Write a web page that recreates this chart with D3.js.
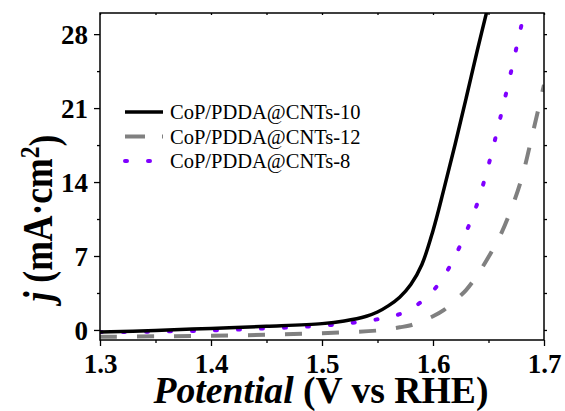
<!DOCTYPE html>
<html>
<head>
<meta charset="utf-8">
<script src="https://cdn.jsdelivr.net/npm/d3@7"></script>
<style>
  body { margin: 0; background: #fff; }
  svg { display: block; }
</style>
</head>
<body>
<svg width="565" height="411"></svg>
<script>
// Data (potential in V vs RHE, j in mA/cm2)
const potential10 = [1.30, 1.35, 1.40, 1.45, 1.50, 1.52, 1.54, 1.55, 1.56, 1.57, 1.58, 1.59, 1.60, 1.61, 1.62, 1.63, 1.64, 1.65];
const current10   = [-0.2, -0.05, 0.15, 0.35, 0.6, 0.85, 1.3, 1.7, 2.3, 3.1, 4.3, 6.2, 9.4, 13.4, 17.6, 22.0, 26.5, 30.8];

const potential12 = [1.30, 1.35, 1.40, 1.45, 1.50, 1.55, 1.57, 1.58, 1.59, 1.60, 1.61, 1.62, 1.63, 1.64, 1.65, 1.66, 1.67, 1.68, 1.69, 1.70];
const current12   = [-0.65, -0.6, -0.55, -0.45, -0.3, -0.05, 0.25, 0.45, 0.85, 1.3, 1.9, 2.8, 3.8, 5.2, 6.9, 8.8, 11.3, 14.4, 18.7, 23.2];

const potential8 = [1.30, 1.35, 1.40, 1.45, 1.50, 1.52, 1.54, 1.56, 1.57, 1.58, 1.59, 1.60, 1.61, 1.62, 1.63, 1.64, 1.65, 1.66, 1.67, 1.68];
const current8   = [-0.2, -0.15, -0.05, 0.15, 0.4, 0.6, 0.85, 1.2, 1.5, 2.0, 2.7, 3.7, 5.1, 7.0, 9.3, 12.0, 15.6, 19.8, 24.3, 29.0];

const seriesNames = ["CoP/PDDA@CNTs-10", "CoP/PDDA@CNTs-12", "CoP/PDDA@CNTs-8"];
const xTicks = [1.3, 1.4, 1.5, 1.6, 1.7];
const xMinor = [1.35, 1.45, 1.55, 1.65];
const yTicks = [0, 7, 14, 21, 28];
const yMinor = [3.5, 10.5, 17.5, 24.5];

const FONT = "'Liberation Serif', 'Times New Roman', Times, serif";

// Layout
const margin = { top: 13, right: 21, bottom: 71, left: 100 },
    width = 565 - margin.left - margin.right,
    height = 411 - margin.top - margin.bottom;

const svg = d3.select("svg")
    .style("font-family", FONT)
    .append("g")
    .attr("transform", `translate(${margin.left},${margin.top})`);

const x = d3.scaleLinear().domain([1.3, 1.7]).range([0, width]);
const y = d3.scaleLinear().domain([-0.95, 30]).range([height, 0]);

// Clip the curves to the frame
svg.append("clipPath").attr("id", "clip")
    .append("rect").attr("width", width).attr("height", height);

const series = [
    { name: seriesNames[0], xs: potential10, ys: current10, color: "#000000", width: 3.5, dash: null, cap: "butt" },
    { name: seriesNames[1], xs: potential12, ys: current12, color: "#808080", width: 4, dash: "17,20", cap: "butt" },
    { name: seriesNames[2], xs: potential8, ys: current8, color: "#7f00ff", width: 4, dash: "2,21", cap: "round" }
];

const line = d3.line()
    .x(d => x(d[0]))
    .y(d => y(d[1]))
    .curve(d3.curveCatmullRom.alpha(0.5));

const plot = svg.append("g").attr("clip-path", "url(#clip)");

// draw order: gray, purple, black on top
[series[1], series[2], series[0]].forEach(s => {
    plot.append("path")
        .datum(s.xs.map((v, i) => [v, s.ys[i]]))
        .attr("fill", "none")
        .attr("stroke", s.color)
        .attr("stroke-width", s.width)
        .attr("stroke-dasharray", s.dash)
        .attr("stroke-linecap", s.cap)
        .attr("d", line);
});

// Axes
function styleAxis(g) {
    g.attr("font-family", null);
    g.select(".domain").remove();
    g.selectAll("line").attr("stroke", "#000").attr("stroke-width", 1.3);
    g.selectAll("text")
        .style("font-family", FONT)
        .style("font-size", "27px")
        .style("font-weight", "bold")
        .attr("fill", "#000");
}

svg.append("g")
    .attr("transform", `translate(0,${height})`)
    .call(d3.axisBottom(x).tickValues(xTicks).tickSize(6).tickPadding(8).tickFormat(d3.format(".1f")))
    .call(styleAxis);

svg.append("g")
    .attr("transform", `translate(0,${height})`)
    .call(d3.axisBottom(x).tickValues(xMinor).tickSize(3).tickFormat(""))
    .call(styleAxis);

svg.append("g")
    .call(d3.axisLeft(y).tickValues(yTicks).tickSize(6).tickPadding(6))
    .call(styleAxis)
    .selectAll("text").attr("dy", "0.36em");

svg.append("g")
    .call(d3.axisLeft(y).tickValues(yMinor).tickSize(3).tickFormat(""))
    .call(styleAxis);

// mirror ticks on top and right
svg.append("g")
    .call(d3.axisBottom(x).tickValues(xTicks.concat(xMinor)).tickSize(2).tickFormat(""))
    .call(styleAxis);

svg.append("g")
    .attr("transform", `translate(${width},0)`)
    .call(d3.axisRight(y).tickValues(yTicks.concat(yMinor)).tickSize(3).tickFormat(""))
    .call(styleAxis);

// Frame
svg.append("rect")
    .attr("width", width)
    .attr("height", height)
    .attr("fill", "none")
    .attr("stroke", "#000")
    .attr("stroke-width", 1.5);

// Legend
const legend = svg.append("g").attr("transform", "translate(25,99)");
series.forEach((s, i) => {
    const row = legend.append("g").attr("transform", `translate(0,${i * 24.5})`);
    row.append("line")
        .attr("x1", 0).attr("x2", 38)
        .attr("stroke", s.color)
        .attr("stroke-width", s.width)
        .attr("stroke-dasharray", i === 1 ? "20,17" : (i === 2 ? "2,21" : null))
        .attr("stroke-linecap", s.cap);
    row.append("text")
        .attr("x", 45)
        .attr("dy", "0.35em")
        .style("font-family", FONT)
        .style("font-size", "20.5px")
        .text(s.name);
});

// squeeze a title horizontally so it spans the wanted length
function squeeze(sel, target, tf) {
    const w = sel.node().getBBox().width;
    sel.attr("transform", `${tf} scale(${target / w},1)`);
}

// Axis titles
const xTitle = svg.append("text")
    .attr("text-anchor", "middle")
    .style("font-family", FONT)
    .style("font-size", "37px")
    .style("font-weight", "bold");
xTitle.append("tspan").style("font-style", "italic").text("Potential");
xTitle.append("tspan").text(" (V vs RHE)");
squeeze(xTitle, 336, `translate(${width / 2 - 1},${height + 63})`);

const yTitle = svg.append("text")
    .attr("text-anchor", "middle")
    .style("font-family", FONT)
    .style("font-size", "42px")
    .style("font-weight", "bold");
yTitle.append("tspan").style("font-style", "italic").text("j");
yTitle.append("tspan").text(" (mA·cm");
yTitle.append("tspan").attr("dy", "-0.45em").style("font-size", "28px").text("2");
yTitle.append("tspan").attr("dy", "0.45em").text(")");
squeeze(yTitle, 172, `translate(-48,205) rotate(-90)`);
</script>
</body>
</html>
